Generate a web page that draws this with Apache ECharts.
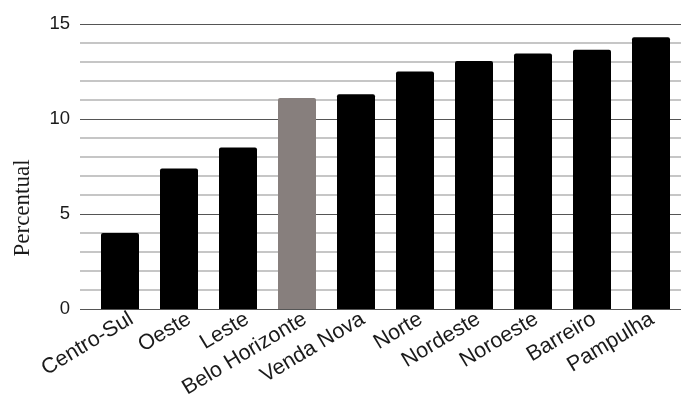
<!DOCTYPE html>
<html>
<head>
<meta charset="utf-8">
<script src="https://cdn.jsdelivr.net/npm/echarts@6/dist/echarts.min.js"></script>
<style>
  html, body { margin: 0; padding: 0; background: #fff; }
  #main { width: 681px; height: 401px; }
</style>
</head>
<body>
<div id="main"></div>
<script>
var categories = ['Centro-Sul', 'Oeste', 'Leste', 'Belo Horizonte', 'Venda Nova', 'Norte', 'Nordeste', 'Noroeste', 'Barreiro', 'Pampulha'];
var percentual = [4.0, 7.4, 8.5, 11.1, 11.3, 12.5, 13.05, 13.45, 13.65, 14.3];
var highlight = 'Belo Horizonte';

var myChart = echarts.init(document.getElementById('main'));

var barData = percentual.map(function (v, i) {
  return {
    value: v,
    itemStyle: { color: categories[i] === highlight ? '#877f7d' : '#000' }
  };
});

var option = {
  animation: false,
  grid: [
    { left: 80, right: 0, top: 24, bottom: 92 },
    { left: 90.5, right: 0.5, top: 24, bottom: 92 },
    // same bands nudged right and down, only used to place the rotated labels
    { left: 102.5, right: -11.5, top: 24, bottom: 84 }
  ],
  xAxis: [
    { gridIndex: 0, type: 'value', show: false, min: 0, max: 1 },
    { gridIndex: 1, type: 'category', data: categories, show: false },
    {
      gridIndex: 2,
      type: 'category',
      data: categories,
      axisLine: { show: false },
      axisTick: { show: false },
      axisLabel: {
        rotate: 31,
        margin: 20,
        interval: 0,
        color: '#1a1a1a',
        fontSize: 21.5,
        fontFamily: 'Liberation Sans'
      }
    }
  ],
  yAxis: [
    {
      gridIndex: 0,
      type: 'value',
      min: 0,
      max: 15,
      interval: 5,
      axisLine: { show: false },
      axisTick: { show: false },
      axisLabel: { color: '#1a1a1a', fontSize: 18.5, fontFamily: 'Liberation Sans', margin: 10 },
      splitLine: { show: true, lineStyle: { color: '#555', width: 1.2 } },
      minorTick: { show: false, splitNumber: 5 },
      minorSplitLine: { show: true, lineStyle: { color: '#b4b4b4', width: 1.5 } }
    },
    { gridIndex: 1, type: 'value', min: 0, max: 15, show: false },
    { gridIndex: 2, type: 'value', min: 0, max: 15, show: false }
  ],
  graphic: [
    {
      type: 'text',
      x: 23,
      y: 208,
      rotation: Math.PI / 2,
      style: {
        text: 'Percentual',
        fontFamily: 'Liberation Serif',
        fontSize: 23,
        fill: '#1a1a1a',
        align: 'center',
        verticalAlign: 'middle'
      }
    }
  ],
  series: [
    {
      type: 'bar',
      xAxisIndex: 1,
      yAxisIndex: 1,
      barWidth: 38,
      data: barData,
      itemStyle: { borderRadius: [2, 2, 0, 0] }
    }
  ]
};

myChart.setOption(option);
</script>
</body>
</html>
